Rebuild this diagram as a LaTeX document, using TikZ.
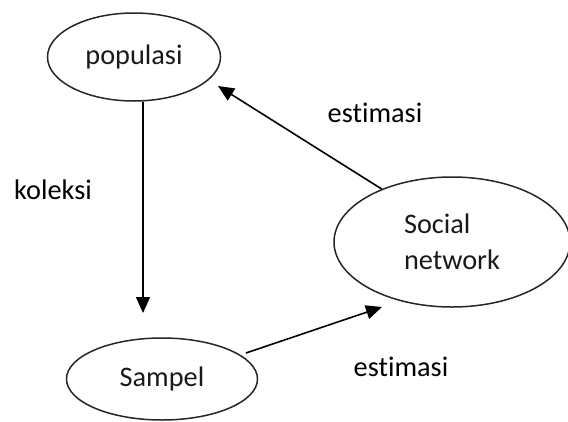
\documentclass[tikz,border=0pt]{standalone}
\usepackage{fontspec}
\setmainfont{Carlito}[Ligatures=NoCommon]
\usepackage{tikz}
\usetikzlibrary{arrows.meta,shapes.geometric}

\begin{document}
\begin{tikzpicture}[x=1pt,y=-1pt,->,>={Triangle[length=16pt,width=14pt]},line width=1.6pt,
    font=\fontsize{28.3}{36}\selectfont]
  \tikzstyle{every blob}=[ellipse,draw=black!85,line width=1.5pt,inner sep=0pt,text=black!90]
  \useasboundingbox (0,0) rectangle (568,421);

  % Nodes
  \node[every blob,minimum width=173pt,minimum height=88pt] (pop) at (134,57) {populasi};
  \node[every blob,minimum width=191pt,minimum height=82pt] (smp) at (162,379) {Sampel};
  \node[every blob,minimum width=236pt,minimum height=130pt,align=left] (sn) at (452,242) {Social\\network};

  % Labels
  \node (kol) at (53,190) {koleksi};
  \node (est1) at (375,113) {estimasi};
  \node (est2) at (401,367) {estimasi};

  % Free ends of the arrows
  \coordinate (kolEnd) at (143,313);
  \coordinate (popEnd) at (218,86);
  \coordinate (smpStart) at (246,353);
  \coordinate (snEnd) at (382,307);

  % Arrows
  \draw ([xshift=9pt]pop.south) -- (kolEnd);    % populasi to Sampel
  \draw (sn.143) -- (popEnd);                   % Social network back to populasi
  \draw (smpStart) -- (snEnd);                  % Sampel to Social network
\end{tikzpicture}
\end{document}
